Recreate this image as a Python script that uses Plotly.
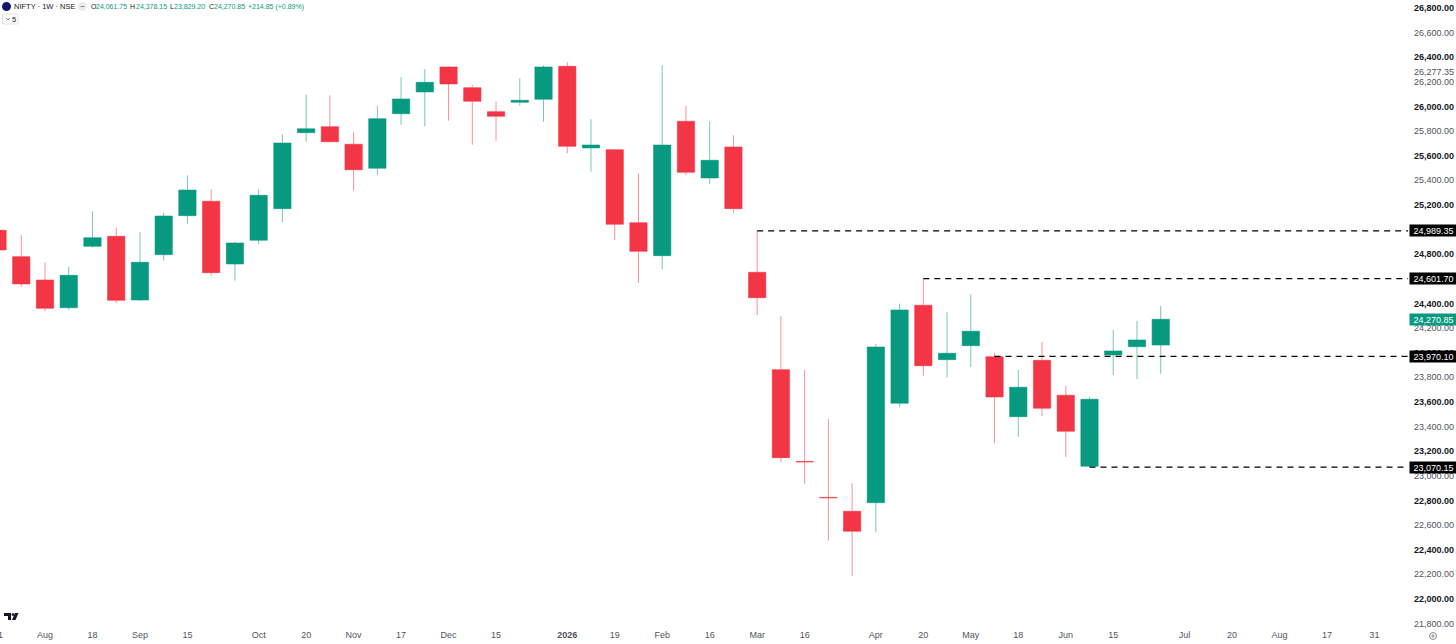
import plotly.graph_objects as go

# weekly candles, values
weeks = [
    "2025-07-21", "2025-07-28", "2025-08-04", "2025-08-11", "2025-08-18", "2025-08-25",
    "2025-09-01", "2025-09-08", "2025-09-15", "2025-09-22", "2025-09-29", "2025-10-06",
    "2025-10-13", "2025-10-20", "2025-10-27", "2025-11-03", "2025-11-10", "2025-11-17",
    "2025-11-24", "2025-12-01", "2025-12-08", "2025-12-15", "2025-12-22", "2025-12-29",
    "2026-01-05", "2026-01-12", "2026-01-19", "2026-01-26", "2026-02-02", "2026-02-09",
    "2026-02-16", "2026-02-23", "2026-03-02", "2026-03-09", "2026-03-16", "2026-03-23",
    "2026-03-30", "2026-04-06", "2026-04-13", "2026-04-20", "2026-04-27", "2026-05-04",
    "2026-05-11", "2026-05-18", "2026-05-25", "2026-06-01", "2026-06-08", "2026-06-15",
    "2026-06-22", "2026-06-29",
]
opens = [
    24994, 24780, 24590, 24365, 24864, 24945, 24428, 24796, 25113, 25230,
    24720, 24913, 25170, 25787, 25836, 25693, 25498, 25941, 26118, 26321,
    26153, 25958, 26034, 26058, 26326, 25663, 25649, 25056, 24788, 25880,
    25419, 25671, 24653, 23862, 23116, 22824, 22711, 22781, 23589, 24385,
    23943, 24057, 23967, 23480, 23938, 23654, 23077, 23981, 24048, 24061.75,
]
highs = [
    25050, 24953, 24734, 24698, 25148, 25018, 24978, 25135, 25441, 25327,
    24901, 25327, 25774, 26096, 26091, 25795, 26004, 26239, 26304, 26325,
    26174, 26042, 26229, 26335, 26361, 25896, 25649, 25454, 26335, 26004,
    25880, 25766, 24989.35, 24298, 23862, 23461, 22939, 24070, 24398, 24601.70,
    24328, 24477, 23995, 23859, 24087, 23729, 23642, 24184, 24257, 24378.15,
]
lows = [
    24790, 24536, 24338, 24349, 24853, 24403, 24420, 24747, 25048, 24625,
    24585, 24880, 25059, 25714, 25706, 25316, 25443, 25852, 25839, 25884,
    25689, 25722, 26006, 25874, 25620, 25470, 24915, 24568, 24677, 25441,
    25370, 25137, 24304, 23112, 22933, 22472, 22186, 22541, 23556, 23813,
    23797, 23883, 23264, 23317, 23485, 23150, 23070.15, 23818, 23784, 23829.20,
]
closes = [
    24834, 24558, 24360, 24628, 24934, 24425, 24734, 25110, 25321, 24650,
    24891, 25278, 25703, 25819, 25714, 25486, 25901, 26061, 26196, 26183,
    26042, 25920, 26050, 26321, 25676, 25687, 25043, 24823, 25687, 25465,
    25563, 25170, 24446, 23147, 23113, 22821, 22549, 24046, 24347, 23894,
    23995, 24174, 23640, 23719, 23548, 23361, 23621, 24014, 24103, 24270.85,
]

# dashed levels: (start week, price)
level_starts = ["2026-03-02", "2026-04-20", "2026-05-11", "2026-06-08"]
level_prices = [24989.35, 24601.70, 23970.10, 23070.15]

date_ticks = [
    "2025-08-04", "2025-08-18", "2025-09-01", "2025-09-15", "2025-10-06", "2025-10-20",
    "2025-11-03", "2025-11-17", "2025-12-01", "2025-12-15", "2026-01-05", "2026-01-19",
    "2026-02-02", "2026-02-16", "2026-03-02", "2026-03-16", "2026-04-06", "2026-04-20",
    "2026-05-04", "2026-05-18", "2026-06-01", "2026-06-15", "2026-07-06", "2026-07-20",
    "2026-08-03", "2026-08-17", "2026-08-31",
]
date_labels = [
    "Aug", "18", "Sep", "15", "Oct", "20", "Nov", "17", "Dec", "15", "<b>2026</b>", "19",
    "Feb", "16", "Mar", "16", "Apr", "20", "May", "18", "Jun", "15", "Jul", "20",
    "Aug", "17", "31",
]
price_ticks = [
    21800, 22000, 22200, 22400, 22600, 22800, 23000, 23200, 23400, 23600, 23800, 24000, 24200,
    24400, 24600, 24800, 25000, 25200, 25400, 25600, 25800, 26000, 26200, 26400, 26600, 26800,
]
prev_high_tick = 26277.35

UP = "#089981"
DOWN = "#F23645"
UP_EDGE = "rgba(8,153,129,0.55)"
DOWN_EDGE = "rgba(242,54,69,0.55)"
DARK = "#131722"
GREY = "#50535E"
FONT = "Liberation Sans"

WIDTH, HEIGHT = 1456, 644
PLOT_W, PLOT_H = 1408, 628


def px(x):
    return x / PLOT_W


def py(y):
    return 1 - y / PLOT_H


def price_label(v):
    if v % 400 == 0:
        return f'<span style="color:{DARK}"><b>{v:,.2f}</b></span>'
    return f"{v:,.2f}"


fig = go.Figure()

fig.add_trace(
    go.Candlestick(
        x=weeks,
        open=opens,
        high=highs,
        low=lows,
        close=closes,
        increasing=dict(line=dict(color=UP_EDGE, width=1), fillcolor=UP),
        decreasing=dict(line=dict(color=DOWN_EDGE, width=1), fillcolor=DOWN),
        whiskerwidth=0,
        showlegend=False,
    )
)

for start, price in zip(level_starts, level_prices):
    fig.add_trace(
        go.Scatter(
            x=[start, "2026-09-10"],
            y=[price, price],
            mode="lines",
            line=dict(color="#000000", width=1.3, dash="6px,5px"),
            showlegend=False,
            hoverinfo="skip",
        )
    )

annotations = []


def header(x, text, color=DARK, size=7):
    annotations.append(
        dict(
            x=px(x), y=py(6.5), xref="paper", yref="paper", xanchor="left", yanchor="middle",
            text=text, showarrow=False, font=dict(family=FONT, size=size, color=color),
        )
    )


header(11.5, "NIFTY · 1W · NSE", size=7.5)
header(88.5, "O")
header(94, "24,061.75", UP)
header(128, "H")
header(133.5, "24,378.15", UP)
header(167.5, "L")
header(172, "23,829.20", UP)
header(206.5, "C")
header(212, "24,270.85", UP)
header(246, "+214.85 (+0.89%)", UP)
annotations.append(
    dict(
        x=px(14), y=py(19), xref="paper", yref="paper", xanchor="center", yanchor="middle",
        text="5", showarrow=False, font=dict(family=FONT, size=7.5, color=DARK),
    )
)
# month label cut off by the left edge of the page
annotations.append(
    dict(
        x=px(-2.5), y=py(635), xref="paper", yref="paper", xanchor="center", yanchor="middle",
        text="21", showarrow=False, font=dict(family=FONT, size=9, color=GREY),
    )
)

# price tags on the scale
for price in level_prices:
    annotations.append(
        dict(
            x=1, y=price, xref="paper", yref="y", xanchor="left", yanchor="middle", xshift=1,
            text=f"{price:,.2f}", showarrow=False, width=47, height=11, align="center",
            bgcolor="#000000", borderpad=0, font=dict(family=FONT, size=9, color="#FFFFFF"),
        )
    )
annotations.append(
    dict(
        x=1, y=closes[-1], xref="paper", yref="y", xanchor="left", yanchor="middle", xshift=1,
        text=f"{closes[-1]:,.2f}", showarrow=False, width=47, height=11, align="center",
        bgcolor=UP, borderpad=0, font=dict(family=FONT, size=9, color="#FFFFFF"),
    )
)

shapes = [
    # index logo and the small collapse button in the header
    dict(type="circle", xref="paper", yref="paper", x0=px(2), x1=px(11), y0=py(11), y1=py(2),
         fillcolor="#12176B", line=dict(width=0)),
    dict(type="circle", xref="paper", yref="paper", x0=px(78), x1=px(87), y0=py(11), y1=py(2),
         fillcolor="#EBEBEB", line=dict(width=0)),
    dict(type="line", xref="paper", yref="paper", x0=px(80.5), x1=px(84.5), y0=py(6.5), y1=py(6.5),
         line=dict(color="#8A8A8A", width=1)),
    dict(type="rect", xref="paper", yref="paper", x0=px(2.5), x1=px(18), y0=py(24), y1=py(14),
         fillcolor="#FFFFFF", line=dict(color="#E3E3E3", width=1)),
    # chevron in the collapse box
    dict(type="path", xref="paper", yref="paper", line=dict(color="#50535E", width=0.8),
         path=f"M {px(6)} {py(18)} L {px(8)} {py(20)} L {px(10)} {py(18)}"),
    # chart settings icon under the scale
    dict(type="circle", xref="paper", yref="paper", x0=px(1429.5), x1=px(1436.5), y0=py(639.5), y1=py(632.5),
         line=dict(color="#6A6D78", width=0.8)),
    dict(type="circle", xref="paper", yref="paper", x0=px(1431.8), x1=px(1434.2), y0=py(637.2), y1=py(634.8),
         line=dict(color="#6A6D78", width=0.8)),
]


def logo_path(points):
    return "M " + " L ".join(f"{px(x)} {py(y)}" for x, y in points) + " Z"


# TradingView mark, bottom left
shapes += [
    dict(type="path", xref="paper", yref="paper", fillcolor="#131722", line=dict(width=0),
         path=logo_path([(4, 613), (11, 613), (11, 620), (8, 620), (8, 616), (4, 616)])),
    dict(type="path", xref="paper", yref="paper", fillcolor="#131722", line=dict(width=0),
         path=logo_path([(15, 613), (18.5, 613), (15.5, 620), (12, 620)])),
    dict(type="circle", xref="paper", yref="paper", fillcolor="#131722", line=dict(width=0),
         x0=px(11.6), x1=px(14.4), y0=py(616), y1=py(613.2)),
]

fig.update_layout(
    width=WIDTH,
    height=HEIGHT,
    margin=dict(l=0, r=WIDTH - PLOT_W, t=0, b=HEIGHT - PLOT_H, pad=0),
    paper_bgcolor="#FFFFFF",
    plot_bgcolor="#FFFFFF",
    font=dict(family=FONT, size=9, color=GREY),
    annotations=annotations,
    shapes=shapes,
    boxgap=0,
    boxgroupgap=0.27,
    xaxis=dict(
        type="date",
        range=["2025-07-21 17:30", "2026-09-09 22:00"],
        tickmode="array",
        tickvals=date_ticks,
        ticktext=date_labels,
        tickangle=0,
        showgrid=False,
        zeroline=False,
        showline=False,
        ticks="",
        rangeslider=dict(visible=False),
        tickfont=dict(family=FONT, size=9, color=GREY),
    ),
    yaxis=dict(
        side="right",
        range=[21763, 26865],
        tickmode="array",
        tickvals=price_ticks + [prev_high_tick],
        ticktext=[price_label(v) for v in price_ticks] + [f"{prev_high_tick:,.2f}"],
        showgrid=False,
        zeroline=False,
        showline=False,
        ticks="",
        ticklabelstandoff=5,
        tickfont=dict(family=FONT, size=9, color=GREY),
    ),
)

# the page default body margin would push the chart off the window
fig.write_html(
    "out.html",
    config={"displayModeBar": False},
    post_script="document.body.style.margin = '0';",
)
